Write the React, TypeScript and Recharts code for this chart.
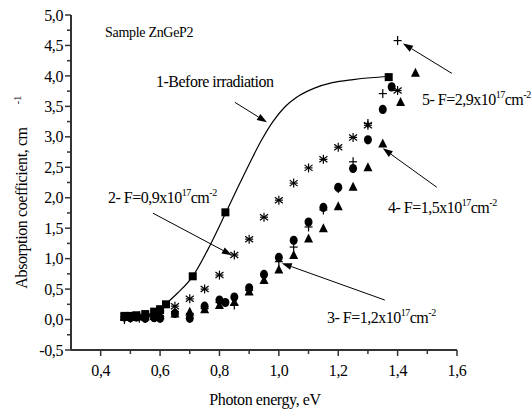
import React from 'react';
import { ComposedChart, Scatter, Line, XAxis, YAxis, ReferenceLine } from 'recharts';

// 1 - before irradiation (squares) and its fitted curve
const energyBefore = [0.48, 0.50, 0.52, 0.55, 0.58, 0.60, 0.62, 0.71, 0.82, 1.37];
const absBefore = [0.06, 0.06, 0.07, 0.09, 0.13, 0.17, 0.25, 0.71, 1.76, 3.98];
const fitEnergy = [0.62, 0.66, 0.71, 0.76, 0.82, 0.86, 0.90, 0.94, 0.98, 1.02, 1.06, 1.12, 1.18, 1.25, 1.31, 1.37];
const fitAbs = [0.26, 0.44, 0.71, 1.14, 1.74, 2.15, 2.55, 2.93, 3.25, 3.49, 3.65, 3.80, 3.89, 3.94, 3.97, 3.99];

// 2 - F=0,9x10^17 (asterisks)
const energyF09 = [0.48, 0.50, 0.53, 0.57, 0.60, 0.65, 0.70, 0.75, 0.80, 0.85, 0.90, 0.95, 1.00, 1.05, 1.10, 1.15, 1.20, 1.25, 1.30, 1.40];
const absF09 = [0.05, 0.05, 0.06, 0.07, 0.10, 0.22, 0.34, 0.50, 0.73, 1.06, 1.32, 1.68, 1.96, 2.24, 2.49, 2.63, 2.83, 2.99, 3.19, 3.76];

// 3 - F=1,2x10^17 (circles)
const energyF12 = [0.48, 0.50, 0.52, 0.55, 0.58, 0.60, 0.65, 0.70, 0.75, 0.80, 0.82, 0.85, 0.90, 0.95, 1.00, 1.05, 1.10, 1.15, 1.20, 1.25, 1.30, 1.35, 1.38];
const absF12 = [0.04, 0.03, 0.04, 0.02, 0.03, 0.02, 0.10, 0.02, 0.22, 0.32, 0.28, 0.37, 0.52, 0.74, 1.02, 1.30, 1.60, 1.84, 2.17, 2.48, 2.95, 3.45, 3.82];

// 4 - F=1,5x10^17 (triangles)
const energyF15 = [0.48, 0.50, 0.53, 0.55, 0.58, 0.60, 0.65, 0.70, 0.75, 0.80, 0.85, 0.90, 0.95, 1.00, 1.05, 1.10, 1.15, 1.20, 1.25, 1.30, 1.35, 1.41, 1.46];
const absF15 = [0.04, 0.04, 0.05, 0.05, 0.06, 0.07, 0.10, 0.13, 0.17, 0.24, 0.29, 0.46, 0.65, 0.82, 1.06, 1.33, 1.50, 1.86, 2.18, 2.50, 2.89, 3.57, 4.05];

// 5 - F=2,9x10^17 (plus)
const energyF29 = [0.48, 0.50, 0.53, 0.55, 0.60, 0.65, 0.70, 0.75, 0.80, 0.85, 0.90, 0.95, 1.00, 1.05, 1.10, 1.15, 1.20, 1.25, 1.30, 1.35, 1.40];
const absF29 = [0.00, 0.02, 0.02, 0.02, 0.05, 0.13, 0.10, 0.18, 0.28, 0.24, 0.48, 0.74, 0.95, 1.19, 1.52, 1.80, 2.15, 2.59, 3.22, 3.71, 4.58];

const xTicks = [0.4, 0.5, 0.6, 0.7, 0.8, 0.9, 1.0, 1.1, 1.2, 1.3, 1.4, 1.5, 1.6];
const yTicks = [-0.5, -0.25, 0, 0.25, 0.5, 0.75, 1, 1.25, 1.5, 1.75, 2, 2.25, 2.5, 2.75, 3, 3.25, 3.5, 3.75, 4, 4.25, 4.5, 4.75, 5];

// annotation arrows: [fromX, fromY, toX, toY] in data units
const arrows = [
  [0.852, 3.566, 0.960, 3.238],
  [0.576, 1.746, 0.842, 1.057],
  [1.357, 0.320, 1.010, 0.926],
  [1.532, 2.172, 1.350, 2.811],
  [1.583, 4.041, 1.418, 4.533],
];

const zip = (xs: number[], ys: number[]) => xs.map((x, i) => ({ x, y: ys[i] }));

const FONT = '"Liberation Serif", "Times New Roman", serif';

const Square = (p: any) => <rect x={p.cx - 4} y={p.cy - 4} width={8} height={8} fill="#000" />;
const Circle = (p: any) => <ellipse cx={p.cx} cy={p.cy} rx={4} ry={4.6} fill="#000" />;
const Triangle = (p: any) => (
  <polygon points={`${p.cx},${p.cy - 5} ${p.cx - 4.5},${p.cy + 4} ${p.cx + 4.5},${p.cy + 4}`} fill="#000" />
);
const Star = (p: any) => (
  <g stroke="#000" strokeWidth={1.2}>
    <line x1={p.cx} y1={p.cy - 4.5} x2={p.cx} y2={p.cy + 4.5} />
    <line x1={p.cx - 4} y1={p.cy - 3} x2={p.cx + 4} y2={p.cy + 3} />
    <line x1={p.cx - 4} y1={p.cy + 3} x2={p.cx + 4} y2={p.cy - 3} />
    <line x1={p.cx - 4} y1={p.cy} x2={p.cx + 4} y2={p.cy} />
  </g>
);
const Plus = (p: any) => (
  <g stroke="#000" strokeWidth={1.2}>
    <line x1={p.cx} y1={p.cy - 4.5} x2={p.cx} y2={p.cy + 4.5} />
    <line x1={p.cx - 4} y1={p.cy} x2={p.cx + 4} y2={p.cy} />
  </g>
);

const Arrow = (p: any) => {
  const { x1, y1, x2, y2 } = p;
  const a = Math.atan2(y2 - y1, x2 - x1);
  const L = 10, W = 3.5;
  const bx = x2 - L * Math.cos(a), by = y2 - L * Math.sin(a);
  const nx = -Math.sin(a) * W, ny = Math.cos(a) * W;
  return (
    <g>
      <line x1={x1} y1={y1} x2={bx} y2={by} stroke="#000" strokeWidth={1} />
      <polygon points={`${x2},${y2} ${bx + nx},${by + ny} ${bx - nx},${by - ny}`} fill="#000" />
    </g>
  );
};

const isMajor = (v: number, step: number) => Math.abs(v / step - Math.round(v / step)) < 1e-6;

const XTick = (p: any) => {
  const v = p.payload.value;
  const major = isMajor(v, 0.2);
  return (
    <g>
      <line x1={p.x} y1={p.y} x2={p.x} y2={p.y + (major ? 6 : 4)} stroke="#333" strokeWidth={1.5} />
      {major && (
        <text x={p.x} y={p.y + 26} textAnchor="middle" fontFamily={FONT} fontSize={16} letterSpacing={-0.4} fill="#000">
          {v.toFixed(1).replace('.', ',')}
        </text>
      )}
    </g>
  );
};

const YTick = (p: any) => {
  const v = p.payload.value;
  const major = isMajor(v, 0.5);
  return (
    <g>
      <line x1={p.x} y1={p.y} x2={p.x - (major ? 6 : 4)} y2={p.y} stroke="#333" strokeWidth={1.5} />
      {major && (
        <text x={p.x - 8} y={p.y} dy="0.35em" textAnchor="end" fontFamily={FONT} fontSize={16} letterSpacing={-0.4} fill="#000">
          {v.toFixed(1).replace('.', ',')}
        </text>
      )}
    </g>
  );
};

const Label = ({ x, y, main, sup1, mid, sup2 }: any) => (
  <text x={x} y={y} fontFamily={FONT} fontSize={16} letterSpacing={-0.5} fill="#000">
    {main}
    <tspan fontSize={10} dy={-7}>{sup1}</tspan>
    <tspan fontSize={16} dy={7}>{mid}</tspan>
    <tspan fontSize={10} dy={-7}>{sup2}</tspan>
  </text>
);

export default function App() {
  return (
    <div style={{ position: 'absolute', left: 0, top: 0, width: 532, height: 410, background: '#fff' }}>
      <ComposedChart width={532} height={410} margin={{ top: 15, right: 75, bottom: 0, left: 0 }}>
        <XAxis
          type="number"
          dataKey="x"
          domain={[0.3, 1.6]}
          ticks={xTicks}
          interval={0}
          allowDataOverflow
          height={60}
          tickSize={0}
          tickMargin={0}
          tickLine={false}
          tick={<XTick />}
          axisLine={{ stroke: '#333', strokeWidth: 2 }}
        />
        <YAxis
          type="number"
          dataKey="y"
          domain={[-0.5, 5]}
          ticks={yTicks}
          interval={0}
          allowDataOverflow
          width={71}
          tickSize={0}
          tickMargin={0}
          tickLine={false}
          tick={<YTick />}
          axisLine={{ stroke: '#333', strokeWidth: 2 }}
        />
        <Line data={zip(fitEnergy, fitAbs)} dataKey="y" type="monotone" dot={false} stroke="#000" strokeWidth={1.2} isAnimationActive={false} />
        <Scatter data={zip(energyF09, absF09)} dataKey="y" shape={Star} isAnimationActive={false} />
        <Scatter data={zip(energyF29, absF29)} dataKey="y" shape={Plus} isAnimationActive={false} />
        <Scatter data={zip(energyF15, absF15)} dataKey="y" shape={Triangle} isAnimationActive={false} />
        <Scatter data={zip(energyF12, absF12)} dataKey="y" shape={Circle} isAnimationActive={false} />
        <Scatter data={zip(energyBefore, absBefore)} dataKey="y" shape={Square} isAnimationActive={false} />
        {arrows.map((a, i) => (
          <ReferenceLine
            key={i}
            segment={[{ x: a[0], y: a[1] }, { x: a[2], y: a[3] }]}
            ifOverflow="visible"
            shape={Arrow}
          />
        ))}
      </ComposedChart>
      <svg width={532} height={410} style={{ position: 'absolute', left: 0, top: 0, pointerEvents: 'none' }}>
        <text x={105} y={37} fontFamily={FONT} fontSize={14} letterSpacing={-0.3} fill="#000">Sample ZnGeP2</text>
        <text x={156} y={87} fontFamily={FONT} fontSize={16} letterSpacing={-0.5} fill="#000">1-Before irradiation</text>
        <Label x={108} y={203} main="2- F=0,9x10" sup1="17" mid="cm" sup2="-2" />
        <Label x={327} y={323} main="3- F=1,2x10" sup1="17" mid="cm" sup2="-2" />
        <Label x={388} y={213} main="4- F=1,5x10" sup1="17" mid="cm" sup2="-2" />
        <Label x={422} y={105} main="5- F=2,9x10" sup1="17" mid="cm" sup2="-2" />
        <text x={265} y={405} textAnchor="middle" fontFamily={FONT} fontSize={16} letterSpacing={-0.4} fill="#000">Photon energy, eV</text>
        <text transform="translate(27,208) rotate(-90)" textAnchor="middle" fontFamily={FONT} fontSize={16} letterSpacing={-0.4} fill="#000">
          Absorption coefficient, cm
        </text>
        <text transform="translate(21,100) rotate(-90)" textAnchor="middle" fontFamily={FONT} fontSize={10} fill="#000">-1</text>
      </svg>
    </div>
  );
}
